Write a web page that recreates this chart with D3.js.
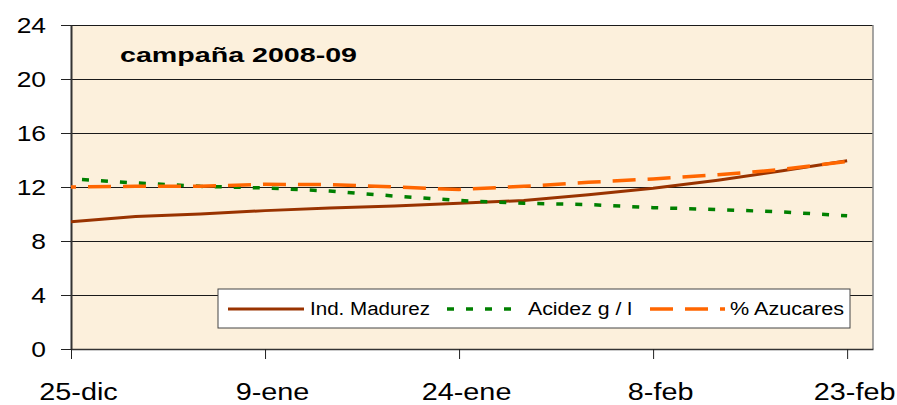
<!DOCTYPE html>
<html>
<head>
<meta charset="utf-8">
<script src="https://cdn.jsdelivr.net/npm/d3@7"></script>
<style>
  html, body { margin: 0; padding: 0; background: #ffffff; }
  svg { display: block; }
  text { font-family: "Liberation Sans", Arial, sans-serif; fill: #000; }
</style>
</head>
<body>
<svg id="chart" width="897" height="405"></svg>
<script>
// ---------- data ----------
const dates = ["2008-12-25","2008-12-30","2009-01-04","2009-01-09","2009-01-14","2009-01-19",
               "2009-01-24","2009-01-29","2009-02-03","2009-02-08","2009-02-13","2009-02-18","2009-02-23"];
const madurez  = [9.43, 9.82, 10.0, 10.25, 10.45, 10.6, 10.8, 11.0, 11.43, 11.9, 12.5, 13.2, 13.95];
const acidez   = [12.6, 12.3, 12.05, 11.93, 11.7, 11.33, 11.0, 10.8, 10.7, 10.47, 10.33, 10.15, 9.87];
const azucares = [12.0, 12.05, 12.05, 12.2, 12.18, 12.0, 11.82, 12.05, 12.35, 12.6, 12.9, 13.3, 13.9];
const seriesNames = ["Ind. Madurez", "Acidez g / l", "% Azucares"];
const xTickDates  = ["2008-12-25","2009-01-09","2009-01-24","2009-02-08","2009-02-23"];
const xTickLabels = ["25-dic","9-ene","24-ene","8-feb","23-feb"];
const yTicks = [0, 4, 8, 12, 16, 20, 24];
const title = "campaña 2008-09";

// ---------- layout ----------
const svg = d3.select("#chart");
const L = 71, R = 873, T = 25, B = 349;
const parse = d3.timeParse("%Y-%m-%d");

const x = d3.scaleTime()
  .domain([parse("2008-12-25"), parse("2009-02-25")])
  .range([L, R]);
const y = d3.scaleLinear().domain([0, 24]).range([B, T]);

// plot background
svg.append("rect").attr("x", L).attr("y", T).attr("width", R - L).attr("height", B - T)
  .attr("fill", "#fcf0dc");

// gridlines
svg.append("g").attr("transform", `translate(${L},0)`)
  .call(d3.axisLeft(y).tickValues(yTicks).tickSize(-(R - L)).tickFormat(""))
  .call(g => g.select(".domain").remove())
  .call(g => g.selectAll("line").attr("stroke", "#1a1a1a").attr("stroke-width", 1)
              .attr("shape-rendering", "crispEdges"));

// right border
svg.append("line").attr("x1", R).attr("x2", R).attr("y1", T).attr("y2", B)
  .attr("stroke", "#888").attr("stroke-width", 1.5);

// y axis
const yAx = svg.append("g").attr("transform", `translate(${L},0)`)
  .call(d3.axisLeft(y).tickValues(yTicks).tickSize(10).tickSizeOuter(0).tickFormat(d3.format("d")));
yAx.select(".domain").attr("stroke", "#333").attr("stroke-width", 2);
yAx.selectAll(".tick line").attr("stroke", "#222").attr("stroke-width", 1);
yAx.selectAll(".tick text")
  .style("font-family", "'Liberation Sans', Arial, sans-serif")
  .attr("font-size", 22).attr("fill", "#000")
  .attr("x", -25 / 1.2).attr("transform", "scale(1.2,1)");

// x axis
const xAx = svg.append("g").attr("transform", `translate(0,${B})`)
  .call(d3.axisBottom(x).tickValues(xTickDates.map(parse)).tickSize(10).tickSizeOuter(0)
        .tickFormat((d, i) => xTickLabels[i]));
xAx.select(".domain").attr("stroke", "#333").attr("stroke-width", 1.5);
xAx.selectAll(".tick line").attr("stroke", "#222").attr("stroke-width", 1);
xAx.selectAll(".tick text")
  .style("font-family", "'Liberation Sans', Arial, sans-serif")
  .attr("font-size", 24).attr("fill", "#000")
  .attr("y", 51).attr("dy", 0)
  .attr("x", 7 / 1.2).attr("transform", "scale(1.2,1)");

// lines
const rows = dates.map((d, i) => ({ date: parse(d), m: madurez[i], a: acidez[i], z: azucares[i] }));
const line = key => d3.line().x(d => x(d.date)).y(d => y(d[key]));

svg.append("path").datum(rows).attr("d", line("m"))
  .attr("fill", "none").attr("stroke", "#993300").attr("stroke-width", 3);
svg.append("path").datum(rows).attr("d", line("a"))
  .attr("fill", "none").attr("stroke", "#008000").attr("stroke-width", 3.5)
  .attr("stroke-dasharray", "7,12").attr("stroke-dashoffset", 8);
svg.append("path").datum(rows).attr("d", line("z"))
  .attr("fill", "none").attr("stroke", "#ff6600").attr("stroke-width", 3.5)
  .attr("stroke-dasharray", "23,12").attr("stroke-dashoffset", 18);

// title
svg.append("text").attr("x", 120).attr("y", 62)
  .attr("font-size", 20).attr("font-weight", "bold")
  .attr("textLength", 237).attr("lengthAdjust", "spacingAndGlyphs")
  .text(title);

// legend
const lg = svg.append("g");
lg.append("rect").attr("x", 218).attr("y", 289).attr("width", 632).attr("height", 39)
  .attr("fill", "#fff").attr("stroke", "#444").attr("stroke-width", 1);
const legendItems = [
  { name: seriesNames[0], color: "#993300", w: 3,   dash: null,    x1: 228, x2: 304, tx: 310, tl: 120 },
  { name: seriesNames[1], color: "#008000", w: 3.5, dash: "7,12",  x1: 447, x2: 512, tx: 528, tl: 104 },
  { name: seriesNames[2], color: "#ff6600", w: 3.5, dash: "23,12", x1: 650, x2: 725, tx: 730, tl: 114 }
];
legendItems.forEach(it => {
  const ln = lg.append("line").attr("x1", it.x1).attr("x2", it.x2).attr("y1", 309).attr("y2", 309)
    .attr("stroke", it.color).attr("stroke-width", it.w);
  if (it.dash) ln.attr("stroke-dasharray", it.dash);
  lg.append("text").attr("x", it.tx).attr("y", 315).attr("font-size", 18)
    .attr("textLength", it.tl).attr("lengthAdjust", "spacingAndGlyphs")
    .text(it.name);
});
</script>
</body>
</html>
